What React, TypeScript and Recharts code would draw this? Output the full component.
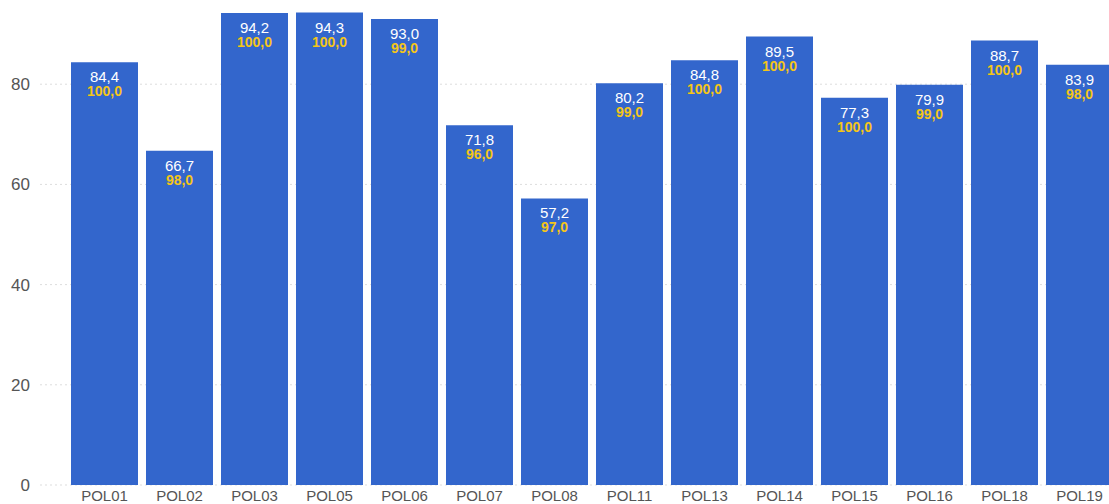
import { BarChart, Bar, XAxis, YAxis, CartesianGrid, LabelList } from 'recharts';

const CATEGORIES = [
  'POL01', 'POL02', 'POL03', 'POL05', 'POL06', 'POL07', 'POL08',
  'POL11', 'POL13', 'POL14', 'POL15', 'POL16', 'POL18', 'POL19',
];
const SCORES = [84.4, 66.7, 94.2, 94.3, 93.0, 71.8, 57.2, 80.2, 84.8, 89.5, 77.3, 79.9, 88.7, 83.9];
const TARGETS = [100, 98, 100, 100, 99, 96, 97, 99, 100, 100, 100, 99, 100, 98];
const Y_TICKS = [0, 20, 40, 60, 80];

const BAR_COLOR = '#3366cc';
const GOLD = '#f5c518';
const FONT = '"Liberation Sans", Arial, sans-serif';

const data = CATEGORIES.map((name, i) => ({ name, score: SCORES[i], target: TARGETS[i] }));

const fmt = (v: number) => v.toFixed(1).replace('.', ',');

function DoubleLabel(props: any) {
  const { x, y, width, index } = props;
  const cx = Number(x) + Number(width) / 2;
  const top = Number(y);
  return (
    <g fontFamily={FONT}>
      <text x={cx} y={top + 20} textAnchor="middle" fill="#ffffff" fontSize={15}>
        {fmt(SCORES[index])}
      </text>
      <text x={cx} y={top + 34} textAnchor="middle" fill={GOLD} fontSize={14} fontWeight="bold">
        {fmt(TARGETS[index])}
      </text>
    </g>
  );
}

export default function App() {
  return (
    <div style={{ position: 'relative', width: 1109, height: 504, overflow: 'hidden', background: '#fff' }}>
      <style>{`body{margin:0}`}</style>
      <div style={{ position: 'absolute', top: -16, left: 0 }}>
        <BarChart
          width={1150}
          height={520}
          data={data}
          margin={{ top: 0, right: 6, bottom: 0, left: 0 }}
          barCategoryGap={4}
        >
          <CartesianGrid vertical={false} stroke="#dddddd" strokeDasharray="2 3" />
          <XAxis
            dataKey="name"
            height={19}
            axisLine={false}
            tickLine={false}
            tickSize={0}
            tickMargin={5}
            padding={{ left: 27, right: 27 }}
            tick={{ fontSize: 15, fill: '#555555', fontFamily: FONT }}
            interval={0}
          />
          <YAxis
            width={40}
            domain={[0, 100]}
            ticks={Y_TICKS}
            axisLine={false}
            tickLine={false}
            tickSize={0}
            tickMargin={10}
            tick={{ fontSize: 17, fill: '#555555', fontFamily: FONT }}
          />
          <Bar dataKey="score" fill={BAR_COLOR} isAnimationActive={false}>
            <LabelList dataKey="score" content={DoubleLabel} />
          </Bar>
        </BarChart>
      </div>
    </div>
  );
}
